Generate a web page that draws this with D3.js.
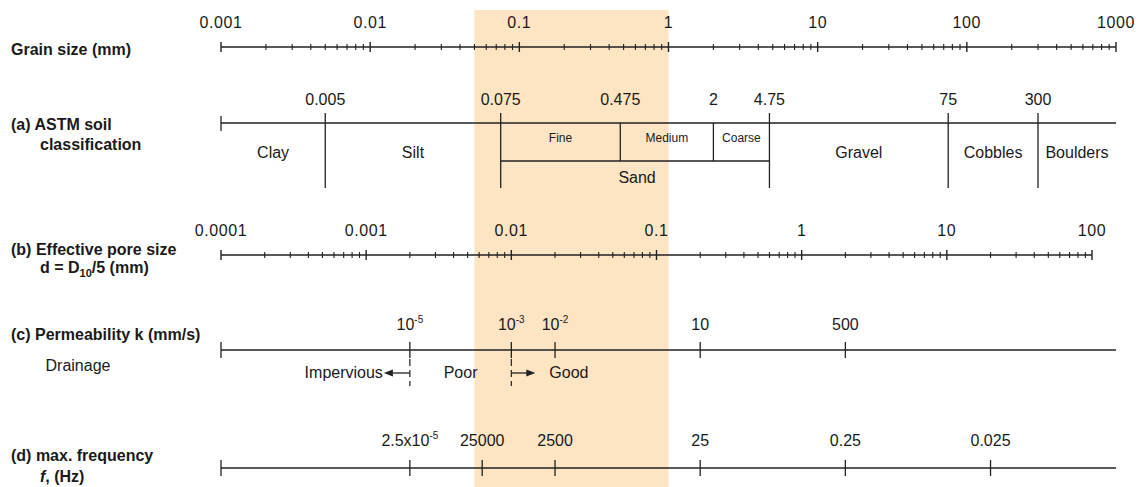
<!DOCTYPE html>
<html><head><meta charset="utf-8">
<script src="https://cdn.jsdelivr.net/npm/d3@7"></script>
<style>
body{margin:0;background:#fff;}
text{font-family:"Liberation Sans",Arial,sans-serif;fill:#1a1a1a;}
</style></head><body>
<svg id="chart" width="1144" height="487"></svg>
<script>
// ---------- data ----------
const grainDecades = [0.001, 0.01, 0.1, 1, 10, 100, 1000];
const grainTickLabels = ["0.001", "0.01", "0.1", "1", "10", "100", "1000"];
const highlightRange = [0.05, 1]; // grain size (mm)

const astmBoundaries = [0.005, 0.075, 0.475, 2, 4.75, 75, 300];
const astmBoundaryLabels = ["0.005", "0.075", "0.475", "2", "4.75", "75", "300"];
const astmClassNames = ["Clay", "Silt", "Gravel", "Cobbles", "Boulders"];
const astmClassFrom = [0.001, 0.005, 4.75, 75, 300];
const astmClassTo = [0.005, 0.075, 75, 300, 1000];
const sandNames = ["Fine", "Medium", "Coarse"];
const sandBounds = [0.075, 0.475, 2, 4.75];

const poreDecades = [0.0001, 0.001, 0.01, 0.1, 1, 10, 100];
const poreTickLabels = ["0.0001", "0.001", "0.01", "0.1", "1", "10", "100"];

const permValues = [1e-5, 1e-3, 1e-2, 10, 500];
const permTickBase = ["10", "10", "10", "10", "500"];
const permTickSup = ["-5", "-3", "-2", "", ""];
const permPoreEquiv = [0.002, 0.01, 0.02, 0.2, 2]; // equivalent pore size d (mm)
const drainageNames = ["Impervious", "Poor", "Good"];
const drainageLimits = [1e-5, 1e-3];

const freqTickBase = ["2.5x10", "25000", "2500", "25", "0.25", "0.025"];
const freqTickSup = ["-5", "", "", "", "", ""];
const freqPoreEquiv = [0.002, 0.0063, 0.02, 0.2, 2, 20]; // equivalent pore size d (mm)

// ---------- layout ----------
const svg = d3.select("#chart");
const X0 = 221;
const grainX = d3.scaleLog().domain([0.001, 1000]).range([X0, 1116]);
const poreX = d3.scaleLog().domain([0.0001, 100]).range([X0, 1092]);
const permX = d3.scaleLog().domain(permValues).range(permPoreEquiv.map(poreX));

const ink = "#222";
const grainY = 47, astmY = 123, poreY = 255, permY = 350, freqY = 468;

// highlight band
svg.append("rect")
  .attr("x", grainX(highlightRange[0])).attr("y", 10)
  .attr("width", grainX(highlightRange[1]) - grainX(highlightRange[0]))
  .attr("height", 487 - 10)
  .attr("fill", "#fde4c2");

function line(x1, y1, x2, y2, w, dash) {
  const l = svg.append("line").attr("x1", x1).attr("y1", y1).attr("x2", x2).attr("y2", y2)
    .attr("stroke", ink).attr("stroke-width", w || 1.2);
  if (dash) l.attr("stroke-dasharray", dash);
  return l;
}
function txt(x, y, s, size, anchor, weight) {
  return svg.append("text").attr("x", x).attr("y", y).attr("font-size", size)
    .attr("text-anchor", anchor || "middle").attr("font-weight", weight || "normal").text(s);
}

// log axis with minor ticks
function logAxis(scale, y, decades, labels) {
  const [d0, d1] = scale.domain();
  line(scale(d0), y, scale(d1), y, 1.4);
  scale.ticks().forEach(t => {
    const isMajor = decades.some(d => Math.abs(d - t) / d < 1e-9);
    const h = isMajor ? 5 : 3;
    line(scale(t), y - h, scale(t), y + h, isMajor ? 1.4 : 1.1);
  });
  decades.forEach((d, i) => {
    txt(scale(d), y - 19, labels[i], 16).attr("letter-spacing", 0.6);
  });
}

// ---------- left labels ----------
txt(11, 55, "Grain size (mm)", 16, "start", "bold");
txt(11, 130, "(a) ASTM soil", 16, "start", "bold");
txt(40, 150, "classification", 16, "start", "bold");
txt(11, 255, "(b) Effective pore size", 16, "start", "bold");
const dl = txt(40, 273, "d = D", 16, "start", "bold");
dl.append("tspan").attr("font-size", 11).attr("dy", 4).text("10");
dl.append("tspan").attr("dy", -4).text("/5 (mm)");
txt(11, 340, "(c) Permeability k (mm/s)", 16, "start", "bold");
txt(11, 461, "(d) max. frequency", 16, "start", "bold");
const fl = txt(40, 482, "", 16, "start", "bold");
fl.append("tspan").attr("font-style", "italic").text("f");
fl.append("tspan").text(", (Hz)");

// ---------- grain size axis ----------
logAxis(grainX, grainY, grainDecades, grainTickLabels);

// ---------- (a) ASTM ----------
line(grainX(0.001), astmY, grainX(1000), astmY, 1.3);
line(grainX(0.001), astmY - 7, grainX(0.001), astmY + 8, 1.3);
const tallBounds = [0.005, 0.075, 4.75, 75, 300];
astmBoundaries.forEach((b, i) => {
  const x = grainX(b);
  if (tallBounds.includes(b)) line(x, astmY - 10, x, astmY + 65, 1.3);
  else line(x, astmY, x, astmY + 38, 1.3);
  txt(x, astmY - 18, astmBoundaryLabels[i], 16);
});
line(grainX(sandBounds[0]), astmY + 38, grainX(sandBounds[3]), astmY + 38, 1.3);
astmClassNames.forEach((n, i) => {
  const xm = (grainX(astmClassFrom[i]) + grainX(astmClassTo[i])) / 2;
  txt(xm, astmY + 35, n, 16);
});
sandNames.forEach((n, i) => {
  const xm = (grainX(sandBounds[i]) + grainX(sandBounds[i + 1])) / 2;
  txt(xm, astmY + 19, n, 12);
});
txt((grainX(sandBounds[0]) + grainX(sandBounds[3])) / 2 + 2, astmY + 60, "Sand", 16);

// ---------- (b) pore size ----------
logAxis(poreX, poreY, poreDecades, poreTickLabels);

// ---------- (c) permeability ----------
line(grainX(0.001), permY, grainX(1000), permY, 1.3);
line(grainX(0.001), permY - 8, grainX(0.001), permY + 8, 1.3);
permValues.forEach((v, i) => {
  const x = permX(v);
  line(x, permY - 8, x, permY + 8, 1.3);
  const t = txt(x, permY - 20, permTickBase[i], 16);
  if (permTickSup[i]) {
    t.append("tspan").attr("font-size", 10).attr("dy", -7).text(permTickSup[i]);
  }
});
txt(78, permY + 21, "Drainage", 16);
const arrowY = permY + 23;
drainageLimits.forEach(v => {
  const x = permX(v);
  line(x, permY + 9, x, permY + 36, 1.2, "7,4");
});
// impervious arrow (left)
const xi = permX(drainageLimits[0]);
line(xi, arrowY, xi - 18, arrowY, 1.3);
svg.append("path").attr("d", d3.line()([[xi - 26, arrowY], [xi - 17, arrowY - 3.5], [xi - 17, arrowY + 3.5]]) + "Z").attr("fill", ink);
txt(xi - 27, arrowY + 5, drainageNames[0], 16, "end");
txt((permX(drainageLimits[0]) + permX(drainageLimits[1])) / 2, arrowY + 5, drainageNames[1], 16);
// good arrow (right)
const xg = permX(drainageLimits[1]);
line(xg, arrowY, xg + 16, arrowY, 1.3);
svg.append("path").attr("d", d3.line()([[xg + 24, arrowY], [xg + 15, arrowY - 3.5], [xg + 15, arrowY + 3.5]]) + "Z").attr("fill", ink);
txt(xg + 38, arrowY + 5, drainageNames[2], 16, "start");

// ---------- (d) frequency ----------
line(grainX(0.001), freqY, grainX(1000), freqY, 1.3);
line(grainX(0.001), freqY - 8, grainX(0.001), freqY + 8, 1.3);
freqPoreEquiv.forEach((d, i) => {
  const x = poreX(d);
  line(x, freqY - 8, x, freqY + 8, 1.3);
  const t = txt(x, freqY - 22, freqTickBase[i], 16);
  if (freqTickSup[i]) t.append("tspan").attr("font-size", 10).attr("dy", -7).text(freqTickSup[i]);
});
</script>
</body></html>
